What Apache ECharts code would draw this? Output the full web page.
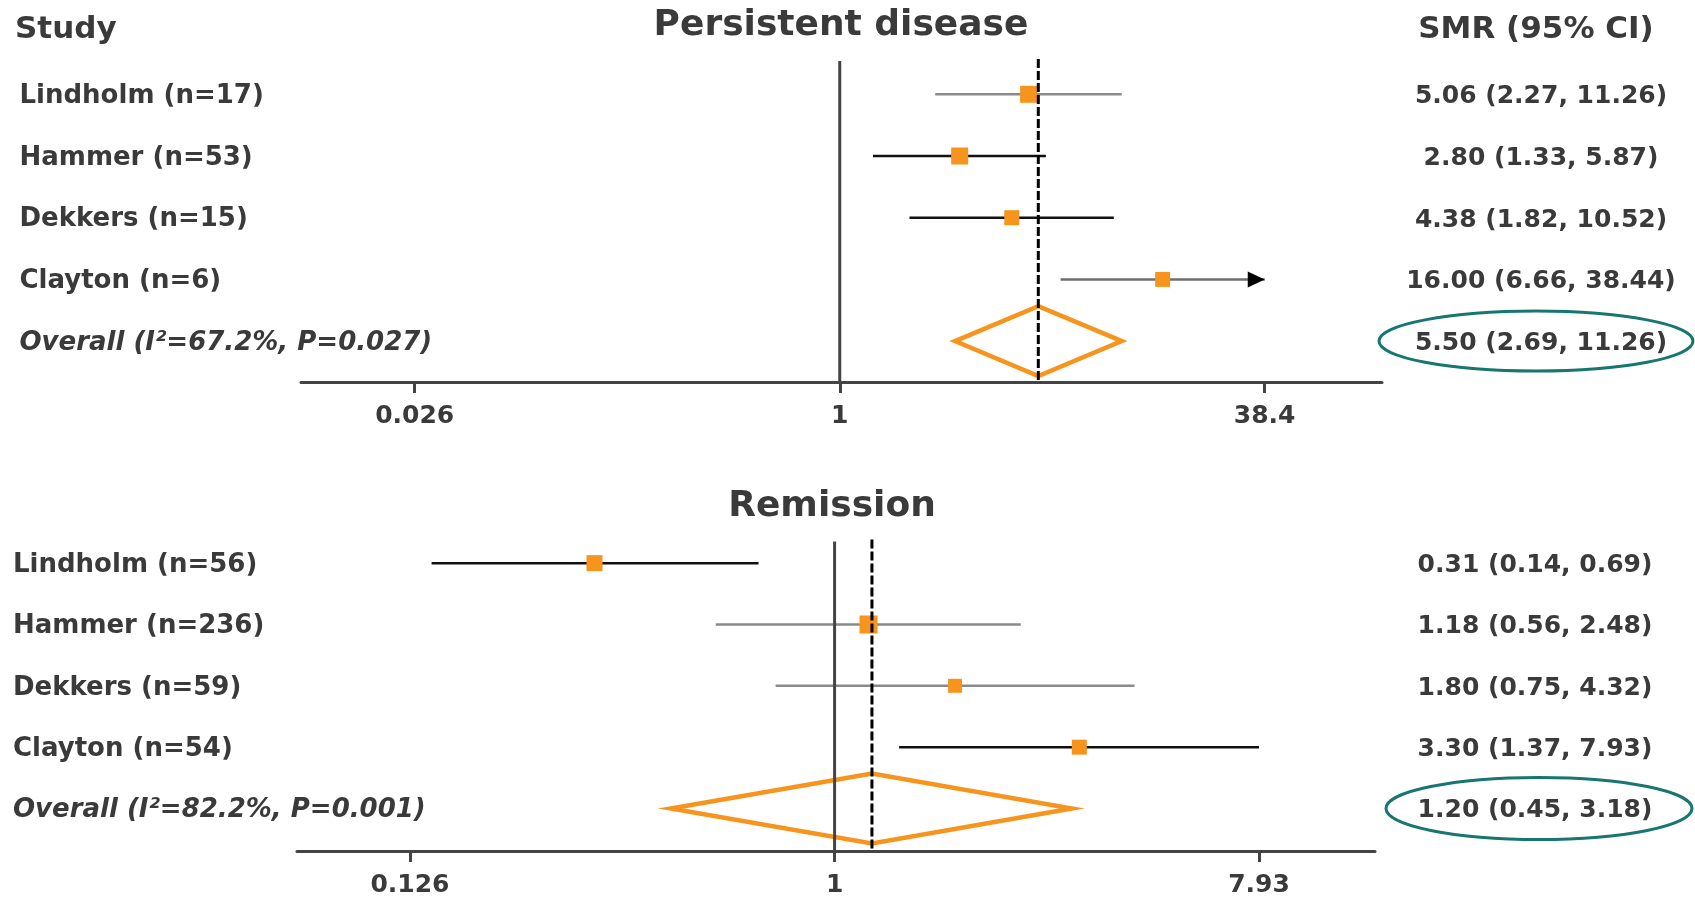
<!DOCTYPE html>
<html>
<head>
<meta charset="utf-8">
<script src="https://cdn.jsdelivr.net/npm/echarts@6/dist/echarts.min.js"></script>
<style>
  html, body { margin: 0; padding: 0; background: #fff; }
  #chart { width: 1695px; height: 898px; }
</style>
</head>
<body>
<div id="chart"></div>
<script>
// ---- data: persistent disease ----
const persistentStudies = ['Lindholm (n=17)', 'Hammer (n=53)', 'Dekkers (n=15)', 'Clayton (n=6)'];
const persistentSmr = [5.06, 2.80, 4.38, 16.00];
const persistentLower = [2.27, 1.33, 1.82, 6.66];
const persistentUpper = [11.26, 5.87, 10.52, 38.44];
const persistentOverallLabel = 'Overall (I²=67.2%, P=0.027)';
const persistentOverall = [5.50, 2.69, 11.26]; // smr, lower, upper
const persistentTicks = [0.026, 1, 38.4];
const persistentTickLabels = ['0.026', '1', '38.4'];

// ---- data: remission ----
const remissionStudies = ['Lindholm (n=56)', 'Hammer (n=236)', 'Dekkers (n=59)', 'Clayton (n=54)'];
const remissionSmr = [0.31, 1.18, 1.80, 3.30];
const remissionLower = [0.14, 0.56, 0.75, 1.37];
const remissionUpper = [0.69, 2.48, 4.32, 7.93];
const remissionOverallLabel = 'Overall (I²=82.2%, P=0.001)';
const remissionOverall = [1.20, 0.45, 3.18];
const remissionTicks = [0.126, 1, 7.93];
const remissionTickLabels = ['0.126', '1', '7.93'];

// ---- styling ----
const ORANGE = '#F7941D';
const TEXT = '#3a3a3a';
const AXIS = '#444';
const GREY = '#8a8a8a';
const BLACK = '#111';
const TEAL = '#17766F';
const FONT = '"DejaVu Sans", "Liberation Sans", sans-serif';

const panels = [
  {
    title: 'Persistent disease',
    studies: persistentStudies, smr: persistentSmr, lower: persistentLower, upper: persistentUpper,
    overallLabel: persistentOverallLabel, overall: persistentOverall,
    ticks: persistentTicks, tickLabels: persistentTickLabels,
    grid: { left: 301, right: 313, top: 61, bottom: 516 },
    xRange: [-2.009, 2.022], yRange: [-0.54, 4.663],
    labelX: 19.5, valueX: 1541,
    titlePos: [841, 26], ellipse: { cx: 1536, rx: 157, ry: 30 },
    lineColors: [GREY, BLACK, BLACK, '#6e6e6e'],
    arrow: [false, false, false, true],
    boxSizes: [17, 17, 15, 15],
  },
  {
    title: 'Remission',
    studies: remissionStudies, smr: remissionSmr, lower: remissionLower, upper: remissionUpper,
    overallLabel: remissionOverallLabel, overall: remissionOverall,
    ticks: remissionTicks, tickLabels: remissionTickLabels,
    grid: { left: 297, right: 320, top: 541.6, bottom: 45.7 },
    xRange: [-1.139, 1.145], yRange: [-0.351, 4.693],
    labelX: 13, valueX: 1535,
    titlePos: [832, 507], ellipse: { cx: 1539, rx: 153, ry: 31 },
    lineColors: [BLACK, GREY, GREY, BLACK],
    arrow: [false, false, false, false],
    boxSizes: [16, 18, 14, 15],
  },
];

const fmt = (v) => v.toFixed(2);
const rows = [0, 1, 2, 3, 4];

const grids = [];
const xAxes = [];
const yAxes = [];
const series = [];

panels.forEach((p, i) => {
  grids.push(p.grid);
  const tickLogs = p.ticks.map((t) => Math.log10(t));

  xAxes.push({
    type: 'value',
    gridIndex: i,
    min: p.xRange[0],
    max: p.xRange[1],
    axisLine: { onZero: false, lineStyle: { color: AXIS, width: 3 } },
    axisTick: { customValues: tickLogs, length: 11, lineStyle: { color: AXIS, width: 3 } },
    axisLabel: {
      customValues: tickLogs,
      formatter: (v) => {
        const k = tickLogs.findIndex((t) => Math.abs(t - v) < 1e-6);
        return k >= 0 ? p.tickLabels[k] : '';
      },
      margin: 22,
      color: TEXT,
      fontSize: 25,
      fontWeight: 'bold',
      fontFamily: FONT,
    },
    splitLine: { show: false },
  });

  const leftLabels = p.studies.concat([p.overallLabel]);
  const rightLabels = p.smr.map((v, k) => `${fmt(v)} (${fmt(p.lower[k])}, ${fmt(p.upper[k])})`)
    .concat([`${fmt(p.overall[0])} (${fmt(p.overall[1])}, ${fmt(p.overall[2])})`]);

  const baseY = {
    type: 'value',
    gridIndex: i,
    inverse: true,
    min: p.yRange[0],
    max: p.yRange[1],
    axisLine: { show: false, onZero: false },
    axisTick: { show: false },
    splitLine: { show: false },
  };

  yAxes.push({
    ...baseY,
    position: 'left',
    axisLabel: {
      customValues: rows,
      align: 'left',
      margin: p.grid.left - p.labelX,
      padding: [4, 0, 0, 0],
      formatter: (v) => {
        const k = Math.round(v);
        return k === 4 ? `{it|${leftLabels[k]}}` : leftLabels[k];
      },
      color: TEXT,
      fontSize: 26,
      fontWeight: 'bold',
      fontFamily: FONT,
      rich: {
        it: { fontStyle: 'italic', fontSize: 26, fontWeight: 'bold', fontFamily: FONT, color: TEXT },
      },
    },
  });

  yAxes.push({
    ...baseY,
    position: 'right',
    axisLabel: {
      customValues: rows,
      align: 'center',
      margin: p.valueX - (1695 - p.grid.right),
      formatter: (v) => `{v|${rightLabels[Math.round(v)]}}`,
      rich: {
        v: {
          padding: [5, 0, 0, 0],
          color: TEXT,
          fontSize: 25,
          fontWeight: 'bold',
          fontFamily: FONT,
        },
      },
      color: TEXT,
      fontSize: 25,
      fontWeight: 'bold',
      fontFamily: FONT,
    },
  });

  const yIdx = i * 2;

  // confidence interval whiskers
  series.push({
    type: 'custom',
    xAxisIndex: i,
    yAxisIndex: yIdx,
    z: 2,
    silent: true,
    data: p.smr.map((_, k) => [k, Math.log10(p.lower[k]), Math.log10(p.upper[k])]),
    encode: { x: [1, 2], y: 0 },
    renderItem: (params, api) => {
      const row = api.value(0);
      const a = api.coord([api.value(1), row]);
      const b = api.coord([api.value(2), row]);
      const color = p.lineColors[params.dataIndex];
      const children = [{
        type: 'line',
        shape: { x1: a[0], y1: a[1], x2: b[0], y2: b[1] },
        style: { stroke: color, lineWidth: 2.5 },
      }];
      if (p.arrow[params.dataIndex]) {
        children.push({
          type: 'polygon',
          shape: { points: [[b[0], b[1]], [b[0] - 17, b[1] - 8], [b[0] - 17, b[1] + 8]] },
          style: { fill: '#000' },
        });
      }
      return { type: 'group', children };
    },
  });

  // study point estimates
  series.push({
    type: 'scatter',
    xAxisIndex: i,
    yAxisIndex: yIdx,
    z: 3,
    silent: true,
    symbol: 'rect',
    symbolSize: (val, params) => p.boxSizes[params.dataIndex],
    itemStyle: { color: ORANGE, opacity: 1 },
    data: p.smr.map((v, k) => [Math.log10(v), k]),
  });

  // pooled estimate diamond
  series.push({
    type: 'custom',
    xAxisIndex: i,
    yAxisIndex: yIdx,
    z: 3,
    silent: true,
    data: [[4, Math.log10(p.overall[1]), Math.log10(p.overall[0]), Math.log10(p.overall[2])]],
    encode: { x: [1, 2, 3], y: 0 },
    renderItem: (params, api) => {
      const row = api.value(0);
      const lo = api.coord([api.value(1), row]);
      const mid = api.coord([api.value(2), row]);
      const hi = api.coord([api.value(3), row]);
      const h = 35;
      return {
        type: 'polygon',
        shape: { points: [lo, [mid[0], mid[1] - h], hi, [mid[0], mid[1] + h]] },
        style: { fill: 'none', stroke: ORANGE, lineWidth: 4.5, lineJoin: 'miter' },
      };
    },
  });

  // reference line at 1 and dashed line at pooled estimate
  series.push({
    type: 'custom',
    xAxisIndex: i,
    yAxisIndex: yIdx,
    z: 4,
    silent: true,
    data: [[Math.log10(1), 0], [Math.log10(p.overall[0]), 1]],
    encode: { x: 0 },
    renderItem: (params, api) => {
      const x = api.value(0);
      const dashed = api.value(1) === 1;
      const top = api.coord([x, p.yRange[0]]);
      const bot = api.coord([x, p.yRange[1]]);
      return {
        type: 'line',
        shape: { x1: top[0], y1: top[1] - (dashed ? 2 : 0), x2: bot[0], y2: bot[1] },
        style: dashed
          ? { stroke: '#000', lineWidth: 3, lineDash: [9, 3] }
          : { stroke: AXIS, lineWidth: 3 },
      };
    },
  });
});

const chart = echarts.init(document.getElementById('chart'));
chart.setOption({
  animation: false,
  backgroundColor: '#fff',
  grid: grids,
  xAxis: xAxes,
  yAxis: yAxes,
  series,
});

// headers and the ellipses around the pooled estimates
const headerText = (text, x, y, size, align) => ({
  type: 'text',
  x, y,
  silent: true,
  style: {
    text, fill: TEXT, fontSize: size, fontWeight: 'bold', fontFamily: FONT,
    align, verticalAlign: 'middle', textAlign: align, textVerticalAlign: 'middle',
  },
});

const graphics = [
  headerText('Study', 15, 30, 31, 'left'),
  headerText('SMR (95% CI)', 1536, 30, 31, 'center'),
];
panels.forEach((p, i) => {
  graphics.push(headerText(p.title, p.titlePos[0], p.titlePos[1], 36, 'center'));
  const y = chart.convertToPixel({ yAxisIndex: i * 2 }, 4);
  graphics.push({
    type: 'ellipse',
    silent: true,
    shape: { cx: p.ellipse.cx, cy: y, rx: p.ellipse.rx, ry: p.ellipse.ry },
    style: { fill: 'none', stroke: TEAL, lineWidth: 3 },
  });
});
chart.setOption({ graphic: graphics });
</script>
</body>
</html>
